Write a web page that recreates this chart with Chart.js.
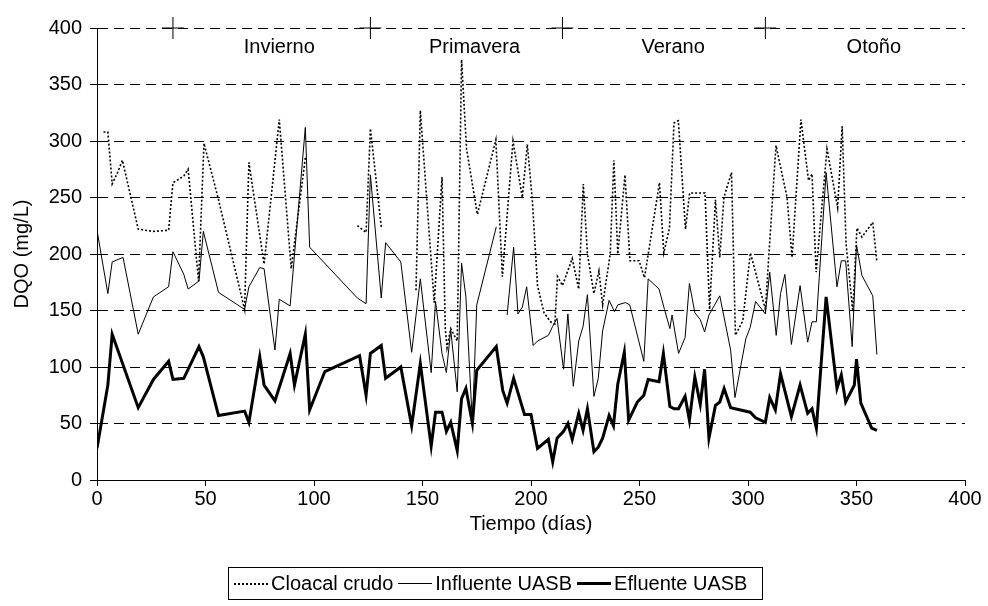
<!DOCTYPE html>
<html>
<head>
<meta charset="utf-8">
<script src="https://cdn.jsdelivr.net/npm/chart.js@4"></script>
<style>
  body { margin: 0; background: #fff; }
  #wrap { position: relative; width: 988px; height: 606px; }
  #leyenda {
    position: absolute; left: 228px; top: 567px; width: 533px; height: 31px;
    border: 1px solid #000; display: flex; align-items: center; justify-content: flex-start;
    white-space: nowrap; box-sizing: content-box; padding: 0;
    font-family: "Liberation Sans", Arial, sans-serif; font-size: 20px; color: #000;
  }
  #leyenda .item { display: flex; align-items: center; white-space: nowrap; }
  #leyenda .muestra { display: inline-block; width: 34px; height: 0; margin: 0 3px 0 5px; }
</style>
</head>
<body>
<div id="wrap">
  <canvas id="dqoChart"></canvas>
  <div id="leyenda">
    <span class="item"><span class="muestra" style="border-top: 2px dotted #000"></span>Cloacal crudo</span>
    <span class="item"><span class="muestra" style="border-top: 1px solid #000"></span>Influente UASB</span>
    <span class="item"><span class="muestra" style="border-top: 3px solid #000"></span>Efluente UASB</span>
  </div>
</div>
<script>
// Cloacal crudo (null = sin dato)
const crudoDias = [3, 5, 7, 9.7, 11.7, 19, 25.8, 33, 35, 40, 42, 46.8, 49.3, 56, 68, 70, 77, 84, 89.5, 96, 108, 120, 124, 126, 131, 139, 147, 149, 155.4, 159, 160.5, 161.3, 163, 166, 168, 170.3, 175.3, 183.8, 186.8, 191.7, 196, 198.3, 200.6, 203, 206, 209, 211, 212.2, 214.5, 219, 222, 224.1, 226, 229, 231.3, 233, 236.5, 238.2, 240, 243.3, 245.6, 249.8, 252.3, 259.2, 261.2, 263.8, 265.9, 267.9, 271.2, 273.1, 280.2, 282.3, 285, 287, 288.9, 292.4, 294.2, 297.6, 301.1, 308, 312.9, 318, 320.3, 324.4, 327.9, 329.5, 331.4, 336.4, 341.3, 343.4, 345.2, 348.3, 350.2, 352.5, 357.5, 359.4];
const crudoDQO = [308, 308, 262, 273, 283, 222, 220, 221, 263, 269, 275, 176, 298, 248, 151, 281, 191, 319, 187, 285, null, 225, 219, 311, 224, null, 168, 327, 157, 268, 134, 117, 134, 123, 372, 293, 235, 301, 180, 300, 250, 297, 248, 172, 148, 140, 138, 180, 172, 196, 169, 262, 200, 165, 185, 155, 200, 283, 200, 270, 194, 194, 179, 263, 201, 223, 316, 318, 222, 254, 254, 151, 248, 197, 250, 272, 128, 141, 201, 151, 296, 250, 197, 319, 265, 271, 184, 293, 241, 313, 209, 149, 223, 215, 228, 193];

// Influente UASB
const influenteDias = [0, 5, 7, 12, 19, 26, 33, 35, 40, 42, 47, 49, 56, 68, 70, 75, 77, 82, 84, 89, 96, 98, 120, 124, 126, 131, 133, 140, 145, 149, 154, 156, 159, 161, 163, 166, 168, 170, 173, 175, 184, 186, 189, 192, 194, 196, 198, 201, 203, 208, 210, 212, 215, 217, 219.5, 222, 224, 226, 229, 231, 233, 236, 238.5, 240, 243.5, 245.5, 252, 254, 259, 261.5, 264, 265, 268, 271, 273, 275.5, 278, 280, 282, 287, 292, 294, 299, 301, 303.5, 308, 310, 313, 315, 317, 320, 324, 327.5, 329.5, 331.5, 336, 341, 343, 345, 348, 350, 352.5, 357.5, 359.4];
const influenteDQO = [221, 165, 193, 197, 129, 162, 171, 202, 182, 169, 176, 220, 166, 151, 171, 188, 187, 115, 160, 154, 312, 206, 161, 156, 270, 161, 210, 193, 113, 178, 95, 158, 112, 95, 133, 78, 192, 162, 50, 155, 224, null, 146, 206, 147, 153, 171, 119, 123, 128, 136, 143, 98, 147, 83, 123, 136, 164, 74, 90, 132, 159, 149, 155, 157, 155, 105, 178, 169, 151, 134, 146, 112, 126, 174, 148, 142, 131, 146, 163, 115, 73, 125, 135, 158, 147, 184, 128, 165, 182, 120, 172, 122, 140, 140, 272, 171, 194, 194, 118, 208, 181, 163, 111];

// Efluente UASB
const efluenteDias = [0, 5, 7, 19, 26, 33, 35, 40, 47, 49, 56, 68, 70, 75, 77, 82, 89, 91, 96, 98, 105, 121, 124, 126, 131, 133, 140, 145, 149, 154, 156, 159, 161, 163, 166, 168, 170, 173, 175, 184, 187, 189, 192, 197, 200, 203, 208, 210, 212, 215, 217, 219, 222, 224, 226, 229, 231, 233, 236, 238, 240, 243, 245, 249, 252, 254, 259, 261, 264, 266, 268, 271, 273, 275.5, 278, 280, 282, 285, 287, 289, 292, 301, 303.5, 308, 310, 312.6, 315, 320, 324, 327.5, 329.5, 331.5, 336, 341, 343, 345, 349, 350, 352, 357, 359.4];
const efluenteDQO = [28, 84, 129, 64, 89, 105, 89, 90, 118, 109, 57, 61, 51, 109, 84, 70, 112, 84, 129, 62, 96, 110, 75, 112, 119, 90, 100, 48, 103, 30, 60, 60, 43, 51, 26, 72, 81, 50, 97, 118, 79, 68, 90, 58, 58, 28, 36, 16, 37, 43, 50, 36, 59, 44, 63, 25, 29, 37, 57, 48, 85, 113, 53, 69, 75, 89, 87, 112, 65, 63, 63, 74, 53, 91, 67, 98, 37, 66, 69, 81, 64, 60, 55, 51, 73, 62, 94, 56, 84, 59, 63, 46, 162, 81, 93, 69, 84, 107, 68, 46, 44];

// Estaciones: marcas de cambio y etiquetas
const cambioEstacion = [35, 126, 214.5, 308];
const estaciones = ['Invierno', 'Primavera', 'Verano', 'Otoño'];
const estacionDias = [84, 174, 265.5, 358];

const yTicks = [0, 50, 100, 150, 200, 250, 300, 350, 400];
const xTicks = [0, 50, 100, 150, 200, 250, 300, 350, 400];

const fuente = "'Liberation Sans', Arial, sans-serif";

function puntos(dias, valores) {
  return dias.map((d, i) => ({ x: d, y: valores[i] }));
}

// Etiquetas de estacion arriba del grafico
const etiquetasEstacion = {
  id: 'etiquetasEstacion',
  afterDatasetsDraw(chart) {
    const ctx = chart.ctx;
    const xs = chart.scales.x;
    const ys = chart.scales.y;
    ctx.save();
    ctx.font = '20px ' + fuente;
    ctx.fillStyle = '#000';
    ctx.textAlign = 'center';
    ctx.textBaseline = 'middle';
    estaciones.forEach((nombre, i) => {
      ctx.fillText(nombre, xs.getPixelForValue(estacionDias[i]), ys.getPixelForValue(383));
    });
    ctx.restore();
  }
};

const ctx = document.getElementById('dqoChart');
new Chart(ctx, {
  type: 'line',
  data: {
    datasets: [
      {
        label: 'Cloacal crudo',
        data: puntos(crudoDias, crudoDQO),
        borderColor: '#000',
        borderWidth: 1.6,
        borderDash: [2, 2],
        pointRadius: 0,
        tension: 0,
        spanGaps: false
      },
      {
        label: 'Influente UASB',
        data: puntos(influenteDias, influenteDQO),
        borderColor: '#000',
        borderWidth: 1,
        pointRadius: 0,
        tension: 0,
        spanGaps: false
      },
      {
        label: 'Efluente UASB',
        data: puntos(efluenteDias, efluenteDQO),
        borderColor: '#000',
        borderWidth: 3,
        pointRadius: 0,
        tension: 0
      },
      {
        label: 'Estaciones',
        type: 'scatter',
        data: cambioEstacion.map(d => ({ x: d, y: 400 })),
        pointStyle: 'cross',
        pointRadius: 11,
        borderColor: '#000',
        borderWidth: 1,
        showLine: false,
        clip: false
      }
    ]
  },
  options: {
    responsive: true,
    maintainAspectRatio: false,
    animation: false,
    devicePixelRatio: 1,
    layout: { padding: { top: 28, right: 23, left: 0, bottom: 66 } },
    plugins: {
      legend: { display: false },
      tooltip: { enabled: false }
    },
    scales: {
      x: {
        type: 'linear',
        min: 0,
        max: 400,
        afterBuildTicks: (s) => { s.ticks = xTicks.map(v => ({ value: v })); },
        afterFit: (s) => { s.height = 60; },
        grid: { drawOnChartArea: false, drawTicks: true, tickLength: 6, color: '#000' },
        border: { color: '#000', width: 1 },
        ticks: { color: '#000', font: { family: fuente, size: 20 }, padding: 1, maxRotation: 0 },
        title: {
          display: true,
          text: 'Tiempo (días)',
          color: '#000',
          font: { family: fuente, size: 20 },
          padding: { top: 0, bottom: 4 }
        }
      },
      y: {
        min: 0,
        max: 400,
        afterBuildTicks: (s) => { s.ticks = yTicks.map(v => ({ value: v })); },
        afterFit: (s) => { s.width = 97; },
        grid: { color: '#000', lineWidth: 1, tickLength: 7 },
        border: { color: '#000', width: 1, dash: [10, 6] },
        ticks: { color: '#000', font: { family: fuente, size: 20 }, padding: 8 },
        title: {
          display: true,
          text: 'DQO (mg/L)',
          color: '#000',
          font: { family: fuente, size: 20 },
          padding: { top: 10, bottom: 0 }
        }
      }
    }
  },
  plugins: [etiquetasEstacion]
});
</script>
</body>
</html>
